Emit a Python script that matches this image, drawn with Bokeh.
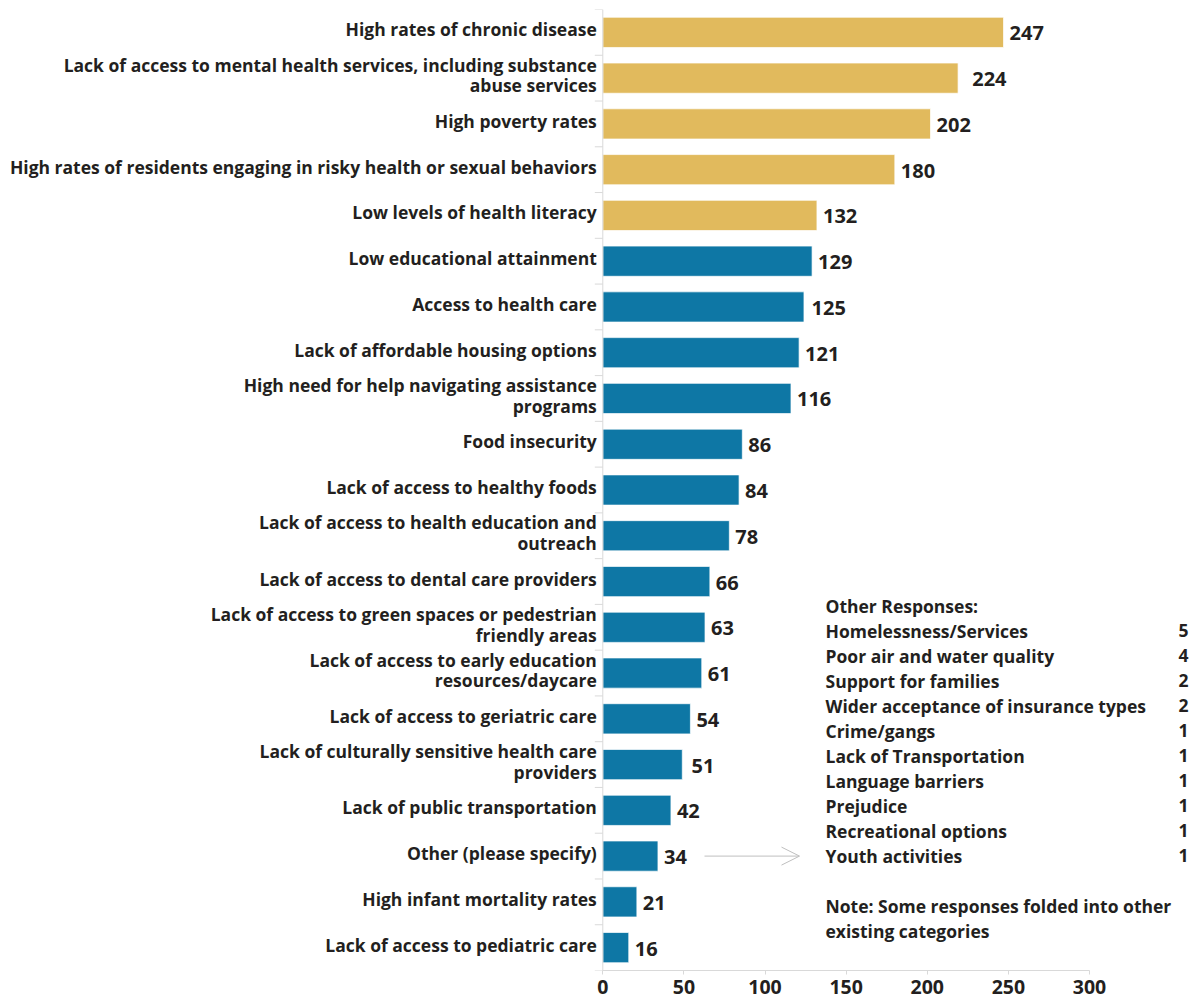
from bokeh.plotting import figure
from bokeh.models import Range1d, ColumnDataSource, Arrow, OpenHead, FixedTicker
from bokeh.core.properties import value
from bokeh.embed import file_html
from bokeh.resources import INLINE

categories = [
    "High rates of chronic disease",
    "Lack of access to mental health services, including substance\nabuse services",
    "High poverty rates",
    "High rates of residents engaging in risky health or sexual behaviors",
    "Low levels of health literacy",
    "Low educational attainment",
    "Access to health care",
    "Lack of affordable housing options",
    "High need for help navigating assistance\nprograms",
    "Food insecurity",
    "Lack of access to healthy foods",
    "Lack of access to health education and\noutreach",
    "Lack of access to dental care providers",
    "Lack of access to green spaces or pedestrian\nfriendly areas",
    "Lack of access to early education\nresources/daycare",
    "Lack of access to geriatric care",
    "Lack of culturally sensitive health care\nproviders",
    "Lack of public transportation",
    "Other (please specify)",
    "High infant mortality rates",
    "Lack of access to pediatric care",
]
# printed counts
counts = [247, 224, 202, 180, 132, 129, 125, 121, 116, 86, 84, 78, 66, 63, 61, 54, 51, 42, 34, 21, 16]
# bar lengths as drawn in the picture (a few bars are slightly shorter than their printed count)
bar_lengths = [247, 219, 202, 180, 132, 129, 124, 121, 116, 86, 84, 78, 66, 63, 61, 54, 49, 42, 34, 21, 16]
top_n = 5  # highlighted top responses

other_labels = ["Homelessness/Services", "Poor air and water quality", "Support for families",
                "Wider acceptance of insurance types", "Crime/gangs", "Lack of Transportation",
                "Language barriers", "Prejudice", "Recreational options", "Youth activities"]
other_counts = [5, 4, 2, 2, 1, 1, 1, 1, 1, 1]
x_ticks = [0, 50, 100, 150, 200, 250, 300]

GOLD = "#E1BA5D"
BLUE = "#0E77A5"
TXT = "#231F20"
FONT = value("Open Sans")
LBL_SIZE = "17.5px"

n = len(categories)
FW, FH = 1199, 961
TOP = 9
ZERO_PX = 602.3          # canvas x of value 0
SX = (1089.0 - ZERO_PX) / 300.0   # px per unit
x0 = -ZERO_PX / SX
x1 = (FW - ZERO_PX) / SX
SY = FH / n               # px per category

ypos = [n - 1 - i for i in range(n)]
colors = [GOLD if i < top_n else BLUE for i in range(n)]

src = ColumnDataSource(dict(y=ypos, v=counts, b=bar_lengths, cat=categories, c=colors,
                            vl=[str(v) for v in counts], zero=[0] * n))

p = figure(frame_width=FW, frame_height=FH, x_range=Range1d(x0, x1),
           y_range=Range1d(-0.5, n - 0.5), output_backend="svg",
           toolbar_location=None, y_axis_location=None,
           min_border_left=0, min_border_right=0, min_border_top=TOP, min_border_bottom=30)
p.outline_line_color = None
p.xgrid.visible = False
p.ygrid.visible = False

p.hbar(y="y", right="b", left=0, height=0.66, fill_color="c", line_color="white",
       line_alpha=0.7, line_width=1, source=src)

# y axis line and category boundary ticks
p.segment(x0=[0], y0=[-0.5], x1=[0], y1=[n - 0.5], line_color="#D9D9D9", line_width=1)
bounds = [k - 0.5 for k in range(n + 1)]
p.segment(x0=[-8 / SX] * len(bounds), y0=bounds, x1=[0] * len(bounds), y1=bounds,
          line_color="#D9D9D9", line_width=1)

# category labels
p.text(x="zero", y="y", text="cat", source=src, text_align="right", text_baseline="middle",
       x_offset=-6, y_offset=-3, text_font=FONT, text_font_style="bold",
       text_font_size=LBL_SIZE, text_color=TXT, text_line_height=0.86)

# value labels
p.text(x="v", y="y", text="vl", source=src, text_align="left", text_baseline="middle",
       x_offset=6, y_offset=1, text_font=FONT, text_font_style="bold",
       text_font_size="20px", text_color=TXT)

# Other responses panel
def ydata(page_y):
    return (n - 0.5) - (page_y - TOP) / SY

def xdata(page_x):
    return (page_x - ZERO_PX) / SX

panel_x = xdata(825)
num_x = xdata(1188)
rows_y = [ydata(630 + 25 * k) for k in range(len(other_labels))]
common = dict(text_baseline="middle", text_font=FONT, text_font_style="bold",
              text_font_size=LBL_SIZE, text_color=TXT)
p.text(x=[panel_x], y=[ydata(605)], text=["Other Responses:"], text_align="left", **common)
p.text(x=[panel_x] * len(other_labels), y=rows_y, text=other_labels, text_align="left", **common)
p.text(x=[num_x] * len(other_counts), y=rows_y, text=[str(c) for c in other_counts],
       text_align="right", **common)
p.text(x=[panel_x] * 2, y=[ydata(905), ydata(930)],
       text=["Note: Some responses folded into other", "existing categories"],
       text_align="left", **common)

# arrow from "Other" bar to panel
other_idx = categories.index("Other (please specify)")
ay = ypos[other_idx]
p.add_layout(Arrow(end=OpenHead(size=18, line_color="#BFBFBF", line_width=1),
                   x_start=xdata(704), y_start=ay, x_end=xdata(799), y_end=ay,
                   line_color="#BFBFBF", line_width=1))

# x axis
ax = p.xaxis[0]
ax.bounds = (0, 300)
ax.ticker = FixedTicker(ticks=x_ticks)
ax.axis_line_color = "#D9D9D9"
ax.major_tick_line_color = "#D9D9D9"
ax.major_tick_out = 4
ax.major_tick_in = 0
ax.minor_tick_line_color = None
ax.major_label_standoff = 5
ax.major_label_text_font = "Open Sans"
ax.major_label_text_font_style = "bold"
ax.major_label_text_font_size = "19.5px"
ax.major_label_text_color = TXT

open("out.html", "w").write(file_html(p, INLINE))
